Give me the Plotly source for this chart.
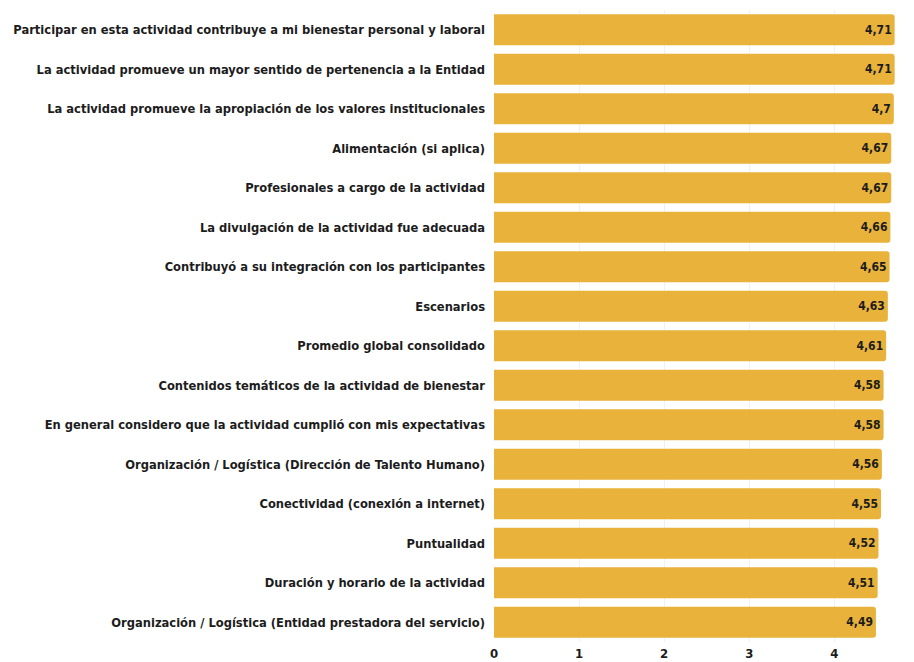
import plotly.graph_objects as go

# Survey items, top to bottom, with their average score
items = [
    "Participar en esta actividad contribuye a mi bienestar personal y laboral",
    "La actividad promueve un mayor sentido de pertenencia a la Entidad",
    "La actividad promueve la apropiación de los valores institucionales",
    "Alimentación (si aplica)",
    "Profesionales a cargo de la actividad",
    "La divulgación de la actividad fue adecuada",
    "Contribuyó a su integración con los participantes",
    "Escenarios",
    "Promedio global consolidado",
    "Contenidos temáticos de la actividad de bienestar",
    "En general considero que la actividad cumplió con mis expectativas",
    "Organización / Logística (Dirección de Talento Humano)",
    "Conectividad (conexión a internet)",
    "Puntualidad",
    "Duración y horario de la actividad",
    "Organización / Logística (Entidad prestadora del servicio)",
]
scores = [4.71, 4.71, 4.7, 4.67, 4.67, 4.66, 4.65, 4.63, 4.61, 4.58, 4.58,
          4.56, 4.55, 4.52, 4.51, 4.49]
x_ticks = [0, 1, 2, 3, 4]

labels = [f"{v:g}".replace(".", ",") for v in scores]

FONT = "DejaVu Sans Condensed, Roboto, sans-serif"
TEXT = "#1c1c1c"

fig = go.Figure(
    go.Bar(
        x=scores,
        y=items,
        orientation="h",
        marker=dict(color="#E8B23B", line=dict(width=0)),
        text=labels,
        textposition="inside",
        insidetextanchor="end",
        textfont=dict(family=FONT, size=12, color=TEXT, weight="bold"),
        cliponaxis=False,
    )
)

fig.update_layout(
    width=914,
    height=662,
    margin=dict(l=494, r=10, t=10, b=20),
    paper_bgcolor="white",
    plot_bgcolor="white",
    bargap=0.21,
    barcornerradius=3,
    showlegend=False,
    font=dict(family=FONT, color=TEXT),
)

fig.update_xaxes(
    range=[0, 4.82],
    tickvals=x_ticks,
    ticktext=[str(t) for t in x_ticks],
    showgrid=True,
    gridcolor="#f1f1f1",
    zeroline=False,
    showline=False,
    automargin=False,
    tickfont=dict(family=FONT, size=13, color=TEXT, weight="bold"),
    ticklabelstandoff=2,
)
fig.update_yaxes(
    autorange="reversed",
    showgrid=False,
    showline=False,
    ticks="",
    automargin=False,
    ticklabelstandoff=8,
    tickfont=dict(family=FONT, size=12.8, color=TEXT, weight="bold"),
)

fig.write_html("out.html")
